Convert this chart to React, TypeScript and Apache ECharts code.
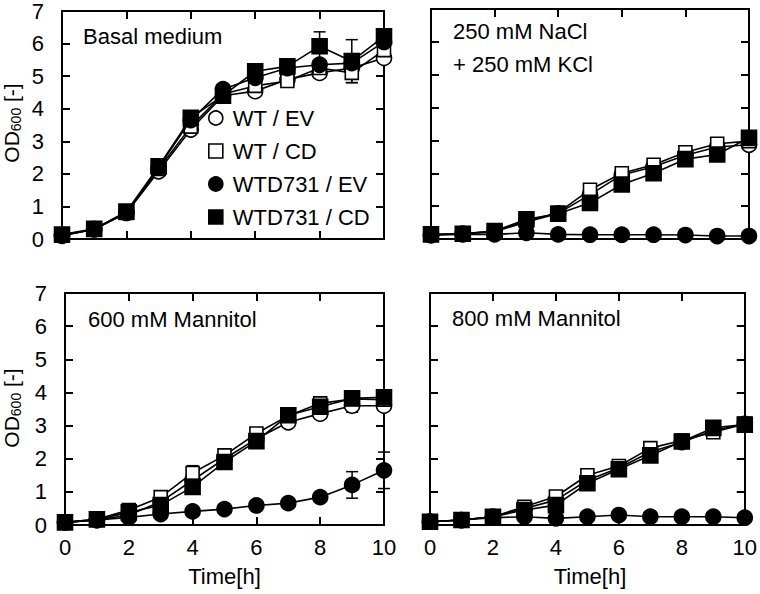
import React, { useEffect, useRef } from "react";
import * as echarts from "echarts";

const FONT = "'Liberation Sans', Arial, Helvetica, sans-serif";
const FS = 22;

const time = [0, 1, 2, 3, 4, 5, 6, 7, 8, 9, 10];
const strains = ["WT / EV", "WT / CD", "WTD731 / EV", "WTD731 / CD"];
const panelTitles = ["Basal medium", "250 mM NaCl\n+ 250 mM KCl", "600 mM Mannitol", "800 mM Mannitol"];

// Basal medium
const basalWtEv = [0.1, 0.3, 0.8, 2.08, 3.36, 4.4, 4.54, 4.9, 5.1, 5.25, 5.56];
const basalWtCd = [0.1, 0.3, 0.8, 2.15, 3.45, 4.45, 4.7, 4.85, 5.25, 5.1, 5.8];
const basalWtdEv = [0.12, 0.3, 0.82, 2.2, 3.65, 4.6, 4.95, 5.25, 5.35, 5.4, 6.05];
const basalWtdCd = [0.14, 0.31, 0.84, 2.23, 3.72, 4.4, 5.15, 5.3, 5.92, 5.46, 6.22];
const basalErrWtEv = [0, 0, 0, 0, 0, 0, 0, 0, 0, 0.25, 0];
const basalErrWtCd = [0, 0, 0, 0, 0, 0, 0, 0, 0, 0.3, 0];
const basalErrWtdEv = [0, 0, 0, 0, 0, 0, 0, 0, 0, 0, 0];
const basalErrWtdCd = [0, 0, 0, 0, 0, 0, 0, 0, 0.44, 0.66, 0];

// 250 mM NaCl + 250 mM KCl
const saltWtEv = [0.12, 0.16, 0.22, 0.52, 0.78, 1.35, 1.95, 2.2, 2.55, 2.8, 2.87];
const saltWtCd = [0.13, 0.16, 0.24, 0.55, 0.8, 1.5, 2.0, 2.26, 2.64, 2.9, 2.98];
const saltWtdEv = [0.12, 0.14, 0.14, 0.19, 0.14, 0.13, 0.13, 0.13, 0.12, 0.09, 0.09];
const saltWtdCd = [0.14, 0.16, 0.24, 0.6, 0.77, 1.1, 1.66, 2.0, 2.43, 2.57, 3.08];
const saltErrWtEv = [0, 0, 0, 0, 0, 0, 0, 0, 0, 0, 0];
const saltErrWtCd = [0, 0, 0, 0, 0, 0, 0, 0, 0, 0, 0];
const saltErrWtdEv = [0, 0, 0, 0, 0, 0, 0, 0, 0, 0, 0];
const saltErrWtdCd = [0, 0, 0, 0, 0, 0, 0, 0, 0, 0, 0];

// 600 mM Mannitol
const man600WtEv = [0.08, 0.15, 0.3, 0.7, 1.35, 2.0, 2.6, 3.1, 3.36, 3.6, 3.6];
const man600WtCd = [0.08, 0.17, 0.45, 0.84, 1.57, 2.1, 2.76, 3.3, 3.67, 3.8, 3.78];
const man600WtdEv = [0.08, 0.15, 0.23, 0.33, 0.41, 0.48, 0.59, 0.66, 0.84, 1.21, 1.65];
const man600WtdCd = [0.08, 0.17, 0.38, 0.6, 1.15, 1.9, 2.53, 3.31, 3.57, 3.82, 3.85];
const man600ErrWtEv = [0, 0, 0, 0, 0, 0, 0, 0, 0, 0.2, 0.1];
const man600ErrWtCd = [0, 0, 0, 0, 0.22, 0, 0, 0, 0, 0, 0];
const man600ErrWtdEv = [0, 0, 0, 0, 0, 0, 0, 0, 0, 0.4, 0.55];
const man600ErrWtdCd = [0, 0, 0, 0, 0, 0, 0, 0, 0, 0, 0];

// 800 mM Mannitol
const man800WtEv = [0.1, 0.15, 0.25, 0.5, 0.75, 1.35, 1.72, 2.2, 2.5, 2.85, 3.05];
const man800WtCd = [0.1, 0.15, 0.25, 0.55, 0.86, 1.5, 1.78, 2.32, 2.55, 2.8, 3.05];
const man800WtdEv = [0.1, 0.15, 0.22, 0.25, 0.2, 0.25, 0.3, 0.25, 0.25, 0.25, 0.22];
const man800WtdCd = [0.1, 0.15, 0.25, 0.45, 0.6, 1.26, 1.68, 2.1, 2.52, 2.93, 3.03];
const man800ErrWtEv = [0, 0, 0, 0, 0, 0, 0, 0, 0, 0, 0];
const man800ErrWtCd = [0, 0, 0, 0, 0, 0, 0, 0, 0, 0, 0];
const man800ErrWtdEv = [0, 0, 0, 0, 0, 0, 0, 0, 0, 0, 0];
const man800ErrWtdCd = [0, 0, 0, 0, 0, 0, 0, 0, 0, 0, 0];

const panelValues = [
  [basalWtEv, basalWtCd, basalWtdEv, basalWtdCd],
  [saltWtEv, saltWtCd, saltWtdEv, saltWtdCd],
  [man600WtEv, man600WtCd, man600WtdEv, man600WtdCd],
  [man800WtEv, man800WtCd, man800WtdEv, man800WtdCd],
];
const panelErrors = [
  [basalErrWtEv, basalErrWtCd, basalErrWtdEv, basalErrWtdCd],
  [saltErrWtEv, saltErrWtCd, saltErrWtdEv, saltErrWtdCd],
  [man600ErrWtEv, man600ErrWtCd, man600ErrWtdEv, man600ErrWtdCd],
  [man800ErrWtEv, man800ErrWtCd, man800ErrWtdEv, man800ErrWtdCd],
];

const grids = [
  { left: 62, top: 9, width: 322, height: 230 },
  { left: 431, top: 9, width: 318, height: 230 },
  { left: 65, top: 293, width: 319, height: 232 },
  { left: 430, top: 293, width: 320, height: 232 },
];
const titlePos = [
  [83, 36],
  [453, 31],
  [88, 319],
  [452, 318],
];

const symbols = ["circle", "rect", "circle", "rect"];
const fills = ["#ffffff", "#ffffff", "#000000", "#000000"];
const sizes = [15, 13, 15, 15];

function buildOption() {
  const xAxis: any[] = [];
  const yAxis: any[] = [];
  const series: any[] = [];
  const axisLine = { show: true, onZero: false, lineStyle: { color: "#000", width: 2 } };
  const axisTick = { show: true, inside: true, length: 8, lineStyle: { color: "#000", width: 2 } };
  const labelStyle = { color: "#000", fontSize: FS, fontFamily: FONT };

  grids.forEach((g, p) => {
    const bottomRow = p >= 2;
    const leftCol = p % 2 === 0;
    xAxis.push({
      type: "value", gridIndex: p, min: 0, max: 10, interval: 2, position: "bottom",
      axisLine, axisTick, splitLine: { show: false },
      axisLabel: { show: bottomRow, margin: 11, ...labelStyle },
    });
    yAxis.push({
      type: "value", gridIndex: p, min: 0, max: 7, interval: 1, position: "left",
      axisLine, axisTick, splitLine: { show: false },
      axisLabel: { show: leftCol, margin: 18, ...labelStyle },
    });
  });
  grids.forEach((g, p) => {
    xAxis.push({
      type: "value", gridIndex: p, min: 0, max: 10, interval: 2, position: "top",
      axisLine, axisTick, splitLine: { show: false }, axisLabel: { show: false },
    });
    yAxis.push({
      type: "value", gridIndex: p, min: 0, max: 7, interval: 1, position: "right",
      axisLine, axisTick, splitLine: { show: false }, axisLabel: { show: false },
    });
  });

  panelValues.forEach((vals, p) => {
    vals.forEach((arr, s) => {
      const errs = panelErrors[p][s];
      const errData = time
        .map((t, i) => [t, arr[i], errs[i]])
        .filter((d) => d[2] > 0);
      if (errData.length) {
        series.push({
          type: "custom", name: strains[s], xAxisIndex: p, yAxisIndex: p, z: 1,
          encode: { x: 0, y: 1 }, data: errData, silent: true,
          renderItem: (params: any, api: any) => {
            const x = api.value(0), y = api.value(1), e = api.value(2);
            const hi = api.coord([x, y + e]);
            const lo = api.coord([x, y - e]);
            const w = 6;
            const st = { stroke: "#000", lineWidth: 1.5 };
            return {
              type: "group",
              children: [
                { type: "line", shape: { x1: hi[0], y1: hi[1], x2: lo[0], y2: lo[1] }, style: st },
                { type: "line", shape: { x1: hi[0] - w, y1: hi[1], x2: hi[0] + w, y2: hi[1] }, style: st },
                { type: "line", shape: { x1: lo[0] - w, y1: lo[1], x2: lo[0] + w, y2: lo[1] }, style: st },
              ],
            };
          },
        });
      }
      series.push({
        type: "line", name: strains[s], xAxisIndex: p, yAxisIndex: p, z: 2 + s,
        data: time.map((t, i) => [t, arr[i]]),
        symbol: symbols[s], symbolSize: sizes[s], showAllSymbol: true,
        itemStyle: { color: fills[s], borderColor: "#000", borderWidth: 1.6 },
        lineStyle: { color: "#000", width: 1.6 },
      });
    });
  });

  const graphic: any[] = [];
  panelTitles.forEach((t, p) => {
    const lines = t.split("\n");
    lines.forEach((ln, k) => {
      graphic.push({
        type: "text", x: titlePos[p][0], y: titlePos[p][1] + k * 33,
        style: { text: ln, font: `${FS}px ${FONT}`, fill: "#000", verticalAlign: "middle", align: "left" },
      });
    });
  });
  [123, 408].forEach((cy) => {
    graphic.push({
      type: "text", x: 11, y: cy, rotation: Math.PI / 2,
      style: {
        text: "{a|OD}{b|600}{a| [-]}", align: "center", verticalAlign: "middle",
        rich: {
          a: { fontSize: 21, fontFamily: FONT, fill: "#000", lineHeight: 24 },
          b: { fontSize: 14, fontFamily: FONT, fill: "#000", lineHeight: 14, verticalAlign: "bottom" },
        },
      },
    });
  });
  [[224.5, 576], [590, 576]].forEach(([cx, cy]) => {
    graphic.push({
      type: "text", x: cx, y: cy,
      style: { text: "Time[h]", font: `${FS}px ${FONT}`, fill: "#000", align: "center", verticalAlign: "middle" },
    });
  });

  return {
    animation: false,
    backgroundColor: "#ffffff",
    grid: grids,
    xAxis, yAxis, series, graphic,
    legend: {
      left: 203, top: 102, orient: "vertical", itemGap: 11, itemWidth: 14, itemHeight: 14,
      selectedMode: false,
      textStyle: { fontSize: FS, fontFamily: FONT, color: "#000", lineHeight: 22, padding: [0, 0, 0, 5] },
      data: strains.map((n, s) => ({
        name: n, icon: symbols[s],
        itemStyle: { color: fills[s], borderColor: "#000", borderWidth: 1.6 },
      })),
    },
  };
}

export default function App() {
  const ref = useRef<HTMLDivElement>(null);
  useEffect(() => {
    if (!ref.current) return;
    const chart = echarts.init(ref.current, undefined, { renderer: "svg" });
    chart.setOption(buildOption() as any);
    return () => chart.dispose();
  }, []);
  return (
    <div
      ref={ref}
      style={{ position: "fixed", left: 0, top: 0, width: 760, height: 594, background: "#fff" }}
    />
  );
}
